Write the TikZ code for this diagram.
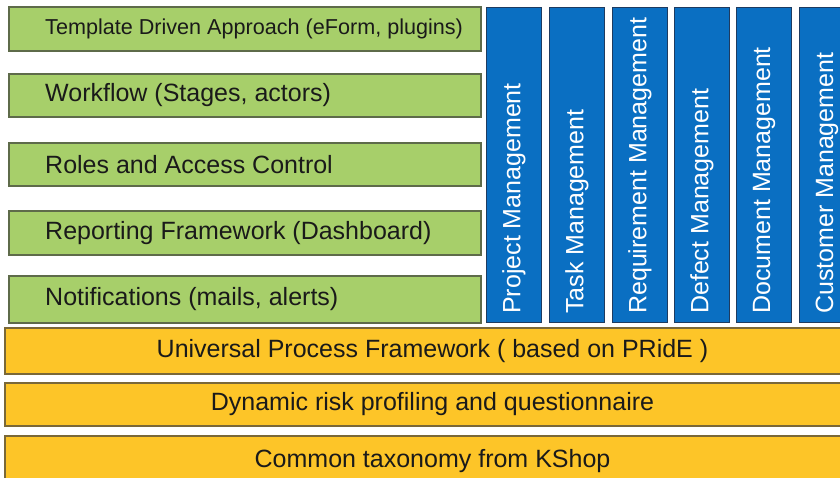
\documentclass[tikz,border=0pt]{standalone}
\usepackage{fontspec}
\setmainfont{Liberation Sans}
\definecolor{gfill}{HTML}{A7CF6A}
\definecolor{gline}{HTML}{5E6B4A}
\definecolor{bfill}{HTML}{0A6FC2}
\definecolor{bline}{HTML}{1E3B60}
\definecolor{ofill}{HTML}{FDC528}
\definecolor{oline}{HTML}{7A6838}
\definecolor{txt}{HTML}{1A1A1A}
\begin{document}
\begin{tikzpicture}[x=1pt,y=-1pt,
  gbox/.style={draw=gline,line width=1.5pt,fill=gfill,inner sep=0pt,minimum width=472pt},
  bcol/.style={draw=bline,line width=1pt,fill=bfill,inner sep=0pt,minimum width=55pt,minimum height=315pt,anchor=north west},
  obar/.style={draw=oline,line width=1.5pt,fill=ofill,inner sep=0pt,minimum width=855pt},
  gtxt/.style={anchor=west,inner sep=0pt,text=txt,font=\fontsize{25}{25}\selectfont},
  btxt/.style={anchor=west,inner sep=0pt,text=white,rotate=90,font=\fontsize{25}{25}\selectfont},
  otxt/.style={inner sep=0pt,text=txt,font=\fontsize{25}{25}\selectfont}]
\path[fill=white] (0,0) rectangle (840,478);
\clip (0,0) rectangle (840,478);
% green boxes
\node[gbox,minimum height=44pt] (g1) at (245,29) {};
\node[gbox,minimum height=43pt] (g2) at (245,95.5) {};
\node[gbox,minimum height=43pt] (g3) at (245,164.5) {};
\node[gbox,minimum height=44pt] (g4) at (245,233) {};
\node[gbox,minimum height=47pt] (g5) at (245,299.5) {};
\node[gtxt,font=\fontsize{21.6}{21.6}\selectfont] (t1) at (45,29) {Template Driven Approach (eForm, plugins)};
\node[gtxt] (t2) at (45,95.5) {Workflow (Stages, actors)};
\node[gtxt] (t3) at (45,164.5) {Roles and Access Control};
\node[gtxt] (t4) at (45,233) {Reporting Framework (Dashboard)};
\node[gtxt] (t5) at (45,299.5) {Notifications (mails, alerts)};
% blue columns
\node[bcol] (c1) at (486,7) {};
\node[bcol] (c2) at (549,7) {};
\node[bcol] (c3) at (612,7) {};
\node[bcol] (c4) at (674,7) {};
\node[bcol] (c5) at (736,7) {};
\node[bcol] (c6) at (799,7) {};
\node[btxt] (l1) at ([yshift=9pt]c1.south) {Project Management};
\node[btxt] (l2) at ([yshift=9pt]c2.south) {Task Management};
\node[btxt] (l3) at ([yshift=9pt]c3.south) {Requirement Management};
\node[btxt] (l4) at ([yshift=9pt]c4.south) {Defect Management};
\node[btxt] (l5) at ([yshift=9pt]c5.south) {Document Management};
\node[btxt] (l6) at ([yshift=9pt]c6.south) {Customer Management};
% orange bars
\node[obar,minimum height=46pt] (o1) at (432.5,351) {};
\node[obar,minimum height=43pt] (o2) at (432.5,404.5) {};
\node[obar,minimum height=54pt] (o3) at (432.5,463) {};
\node[otxt] (u1) at (o1.center) {Universal Process Framework ( based on PRidE )};
\node[otxt] (u2) at (o2.center) {Dynamic risk profiling and questionnaire};
\node[otxt] (u3) at ([yshift=2pt]o3.center) {Common taxonomy from KShop};
\end{tikzpicture}
\end{document}
